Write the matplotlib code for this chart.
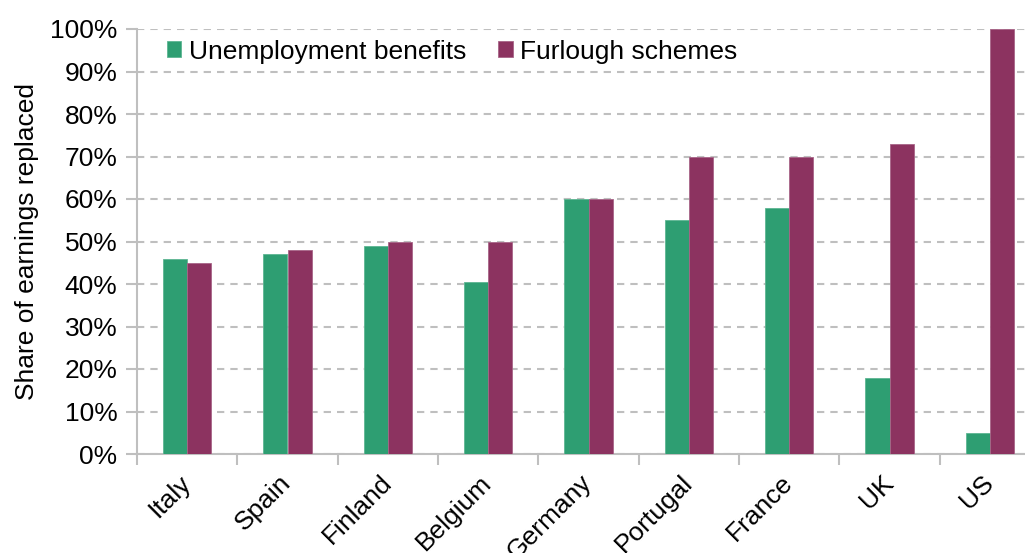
import numpy as np
import matplotlib
matplotlib.use('Agg')
import matplotlib.pyplot as plt
from matplotlib.ticker import PercentFormatter, MultipleLocator

countries = ['Italy', 'Spain', 'Finland', 'Belgium', 'Germany', 'Portugal', 'France', 'UK', 'US']
unemployment = [46, 47, 49, 40.5, 60, 55, 58, 18, 5]
furlough = [45, 48, 50, 50, 60, 70, 70, 73, 100]

green = '#2E9E72'
purple = '#8C3360'
grey = '#BFBFBF'

plt.rcParams['font.family'] = ['Liberation Sans', 'DejaVu Sans']
plt.rcParams['font.size'] = 19

fig = plt.figure(figsize=(10.25, 5.53), dpi=100)
# axes runs a little past the right edge, as in the original crop
ax = fig.add_axes([137/1025, 99/553, 903/1025, 425/553])

x = np.arange(len(countries)) + 0.5
w = 0.24
ax.bar(x - w/2, unemployment, w, color=green, edgecolor='#5DB592', linewidth=0.6,
       label='Unemployment benefits', zorder=3)
ax.bar(x + w/2, furlough, w, color=purple, edgecolor='#A86588', linewidth=0.6,
       label='Furlough schemes', zorder=3)

ax.set_xlim(0, len(countries))
ax.set_ylim(0, 100)
ax.yaxis.set_major_locator(MultipleLocator(10))
ax.yaxis.set_major_formatter(PercentFormatter(decimals=0))
ax.grid(axis='y', color=grey, linewidth=1.5, linestyle=(0, (3.5, 2.9)))
ax.set_axisbelow(True)

ax.set_xticks(np.arange(len(countries) + 1))
ax.set_xticklabels([])
ax.set_xticks(x, minor=True)
ax.set_xticklabels(countries, minor=True, rotation=45, ha='right', va='center',
                   rotation_mode='anchor')
ax.tick_params(axis='x', which='minor', length=0, pad=18)
ax.tick_params(axis='x', which='major', length=8, color=grey, width=1.5)
ax.tick_params(axis='y', length=8, color=grey, width=1.5, pad=6)

for s in ['top', 'right']:
    ax.spines[s].set_visible(False)
for s in ['left', 'bottom']:
    ax.spines[s].set_color(grey)
    ax.spines[s].set_linewidth(1.5)

ax.set_ylabel('Share of earnings replaced', labelpad=8)
ax.legend(loc='upper left', ncol=2, frameon=False, handlelength=0.55, handleheight=0.55,
          handletextpad=0.3, columnspacing=1.2, borderaxespad=0,
          bbox_to_anchor=(0.021, 1.0))

fig.savefig('out.png', dpi=100)
